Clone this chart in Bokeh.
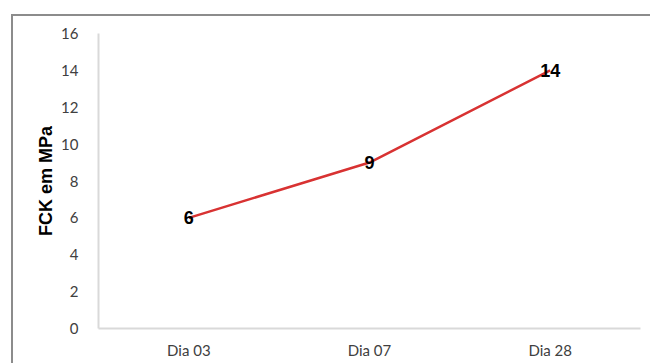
from bokeh.plotting import figure
from bokeh.models import ColumnDataSource, FixedTicker, Range1d, InlineStyleSheet
from bokeh.core.properties import value
from bokeh.embed import file_html
from bokeh.resources import INLINE

categories = ["Dia 03", "Dia 07", "Dia 28"]
fck = [6, 9, 14]
y_ticks = [0, 2, 4, 6, 8, 10, 12, 14, 16]

src = ColumnDataSource(dict(x=categories, y=fck, lbl=[str(v) for v in fck]))

p = figure(width=650, height=363, x_range=categories, y_range=Range1d(0, 16),
           output_backend="svg", toolbar_location=None,
           min_border_left=98, min_border_right=10, min_border_top=33, min_border_bottom=35)
p.outline_line_color = None
p.grid.grid_line_color = None
p.background_fill_color = "white"
p.border_fill_color = "white"

p.line("x", "y", source=src, line_color="#d83232", line_width=2.5)
p.text("x", "y", text="lbl", source=src, text_align="center", text_baseline="middle",
       text_font=value("Liberation Sans"), text_font_style="bold", text_font_size="18px",
       text_color="black")

# outer chart border (drawn by CSS around the canvas area)
p.stylesheets = [InlineStyleSheet(css="""
:host { position: relative; }
:host::after { content: ''; position: absolute; left: 11px; top: 14px;
  width: 660px; height: 380px; border: 2px solid #8c8c8c;
  pointer-events: none; box-sizing: border-box; }
""")]

p.yaxis.ticker = FixedTicker(ticks=y_ticks)
for ax in (p.xaxis, p.yaxis):
    ax.axis_line_color = "#d9d9d9"
    ax.axis_line_width = 2
    ax.major_tick_line_color = None
    ax.minor_tick_line_color = None
    ax.major_label_text_color = "#404040"
    ax.major_label_text_font = "Lato"
p.yaxis.major_label_text_font_size = "15px"
p.xaxis.major_label_text_font_size = "15px"
p.yaxis.major_label_standoff = 14
p.xaxis.major_label_standoff = 6
p.yaxis.axis_label = "FCK em MPa"
p.yaxis.axis_label_text_font = "Liberation Sans"
p.yaxis.axis_label_text_font_style = "bold"
p.yaxis.axis_label_text_font_size = "18px"
p.yaxis.axis_label_text_color = "black"
p.yaxis.axis_label_standoff = 2

open("out.html", "w").write(file_html(p, INLINE))
